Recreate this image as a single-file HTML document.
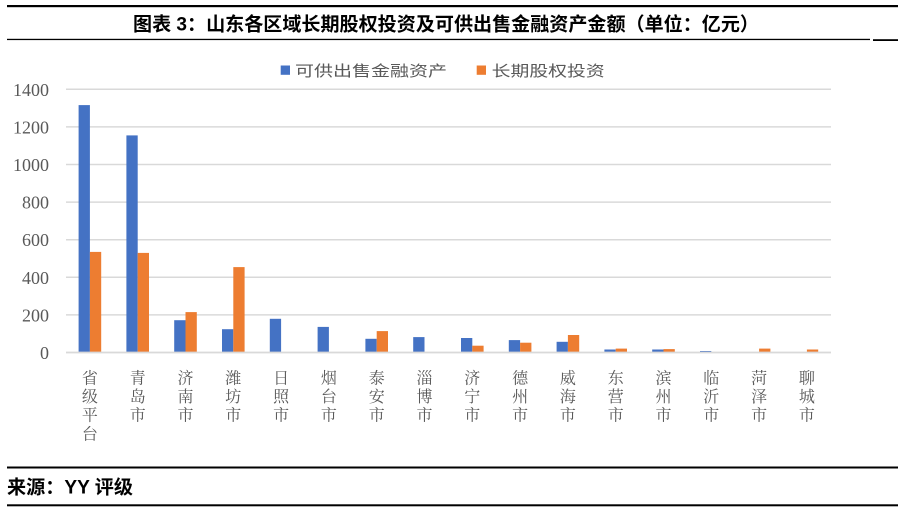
<!DOCTYPE html>
<html>
<head>
<meta charset="utf-8">
<style>
html,body{margin:0;padding:0;background:#fff;}
svg{display:block;}
</style>
</head>
<body>
<svg width="902" height="512" viewBox="0 0 902 512" xmlns="http://www.w3.org/2000/svg">
  <!-- header rules -->
  <rect x="7" y="5" width="891" height="2.2" fill="#000"/>
  <text x="133" y="30.5" font-family="'Liberation Sans','Noto Sans CJK SC',sans-serif" font-weight="bold" font-size="19" fill="#000" textLength="626" lengthAdjust="spacingAndGlyphs">图表 3：山东各区域长期股权投资及可供出售金融资产金额（单位：亿元）</text>
  <rect x="7" y="38.8" width="863" height="1.3" fill="#000"/>
  <rect x="873" y="39.2" width="25" height="1.8" fill="#000"/>

  <!-- legend -->
  <rect x="280.7" y="65.5" width="9.3" height="9.3" fill="#4472C4"/>
  <text x="295" y="76" font-family="'Noto Sans CJK SC',sans-serif" font-size="15" fill="#595959" textLength="152" lengthAdjust="spacingAndGlyphs">可供出售金融资产</text>
  <rect x="476.7" y="65.5" width="9.3" height="9.3" fill="#ED7D31"/>
  <text x="491.7" y="76" font-family="'Noto Sans CJK SC',sans-serif" font-size="15" fill="#595959" textLength="113" lengthAdjust="spacingAndGlyphs">长期股权投资</text>

  <!-- gridlines -->
  <g stroke="#D9D9D9" stroke-width="1.5">
    <line x1="66" y1="89.3" x2="831" y2="89.3"/>
    <line x1="66" y1="126.9" x2="831" y2="126.9"/>
    <line x1="66" y1="164.5" x2="831" y2="164.5"/>
    <line x1="66" y1="202.1" x2="831" y2="202.1"/>
    <line x1="66" y1="239.7" x2="831" y2="239.7"/>
    <line x1="66" y1="277.3" x2="831" y2="277.3"/>
    <line x1="66" y1="314.9" x2="831" y2="314.9"/>
  </g>

  <!-- y labels -->
  <g font-family="'Liberation Serif',serif" font-size="18" fill="#595959" text-anchor="end">
    <text x="49" y="95.8">1400</text>
    <text x="49" y="133.4">1200</text>
    <text x="49" y="171">1000</text>
    <text x="49" y="208.6">800</text>
    <text x="49" y="246.2">600</text>
    <text x="49" y="283.8">400</text>
    <text x="49" y="321.4">200</text>
    <text x="49" y="359">0</text>
  </g>

  <!-- bars: blue -->
  <g fill="#4472C4">
    <rect x="78.6" y="105.1" width="11.3" height="247.4"/>
    <rect x="126.4" y="135.4" width="11.3" height="217.1"/>
    <rect x="174.2" y="320.2" width="11.3" height="32.3"/>
    <rect x="222.0" y="329.2" width="11.3" height="23.3"/>
    <rect x="269.8" y="318.8" width="11.3" height="33.7"/>
    <rect x="317.6" y="326.9" width="11.3" height="25.6"/>
    <rect x="365.4" y="338.8" width="11.3" height="13.7"/>
    <rect x="413.2" y="337.1" width="11.3" height="15.4"/>
    <rect x="461.0" y="338.0" width="11.3" height="14.5"/>
    <rect x="508.8" y="340.1" width="11.3" height="12.4"/>
    <rect x="556.6" y="341.8" width="11.3" height="10.7"/>
    <rect x="604.4" y="349.5" width="11.3" height="3.0"/>
    <rect x="652.2" y="349.5" width="11.3" height="3.0"/>
    <rect x="700.0" y="351.0" width="11.3" height="1.5"/>
  </g>
  <!-- bars: orange -->
  <g fill="#ED7D31">
    <rect x="89.9" y="251.9" width="11.3" height="100.6"/>
    <rect x="137.7" y="252.9" width="11.3" height="99.6"/>
    <rect x="185.5" y="312.1" width="11.3" height="40.4"/>
    <rect x="233.3" y="267.1" width="11.3" height="85.4"/>
    <rect x="376.7" y="331.1" width="11.3" height="21.4"/>
    <rect x="472.3" y="345.7" width="11.3" height="6.8"/>
    <rect x="520.1" y="342.7" width="11.3" height="9.8"/>
    <rect x="567.9" y="335.0" width="11.3" height="17.5"/>
    <rect x="615.7" y="348.6" width="11.3" height="3.9"/>
    <rect x="663.5" y="349.1" width="11.3" height="3.4"/>
    <rect x="759.1" y="348.6" width="11.3" height="3.9"/>
    <rect x="806.9" y="349.5" width="11.3" height="3.0"/>
  </g>

  <!-- axis line -->
  <line x1="66" y1="352.5" x2="831" y2="352.5" stroke="#D9D9D9" stroke-width="1.8"/>

  <!-- x labels (vertical) -->
  <g font-family="'Noto Serif CJK SC','Noto Sans CJK SC',serif" font-size="16" fill="#595959" text-anchor="middle">
    <text x="89.9" y="383.3">省</text><text x="89.9" y="402">级</text><text x="89.9" y="420.7">平</text><text x="89.9" y="439.4">台</text>
    <text x="137.7" y="383.3">青</text><text x="137.7" y="402">岛</text><text x="137.7" y="420.7">市</text>
    <text x="185.5" y="383.3">济</text><text x="185.5" y="402">南</text><text x="185.5" y="420.7">市</text>
    <text x="233.3" y="383.3">潍</text><text x="233.3" y="402">坊</text><text x="233.3" y="420.7">市</text>
    <text x="281.1" y="383.3">日</text><text x="281.1" y="402">照</text><text x="281.1" y="420.7">市</text>
    <text x="328.9" y="383.3">烟</text><text x="328.9" y="402">台</text><text x="328.9" y="420.7">市</text>
    <text x="376.7" y="383.3">泰</text><text x="376.7" y="402">安</text><text x="376.7" y="420.7">市</text>
    <text x="424.5" y="383.3">淄</text><text x="424.5" y="402">博</text><text x="424.5" y="420.7">市</text>
    <text x="472.3" y="383.3">济</text><text x="472.3" y="402">宁</text><text x="472.3" y="420.7">市</text>
    <text x="520.1" y="383.3">德</text><text x="520.1" y="402">州</text><text x="520.1" y="420.7">市</text>
    <text x="567.9" y="383.3">威</text><text x="567.9" y="402">海</text><text x="567.9" y="420.7">市</text>
    <text x="615.7" y="383.3">东</text><text x="615.7" y="402">营</text><text x="615.7" y="420.7">市</text>
    <text x="663.5" y="383.3">滨</text><text x="663.5" y="402">州</text><text x="663.5" y="420.7">市</text>
    <text x="711.3" y="383.3">临</text><text x="711.3" y="402">沂</text><text x="711.3" y="420.7">市</text>
    <text x="759.1" y="383.3">菏</text><text x="759.1" y="402">泽</text><text x="759.1" y="420.7">市</text>
    <text x="806.9" y="383.3">聊</text><text x="806.9" y="402">城</text><text x="806.9" y="420.7">市</text>
  </g>

  <!-- footer -->
  <rect x="7" y="466.5" width="891" height="2" fill="#000"/>
  <text x="7" y="493.5" font-family="'Liberation Sans','Noto Sans CJK SC',sans-serif" font-weight="bold" font-size="19" fill="#000" textLength="126" lengthAdjust="spacingAndGlyphs">来源：YY 评级</text>
  <rect x="7" y="504.3" width="891" height="2" fill="#000"/>
</svg>
</body>
</html>
